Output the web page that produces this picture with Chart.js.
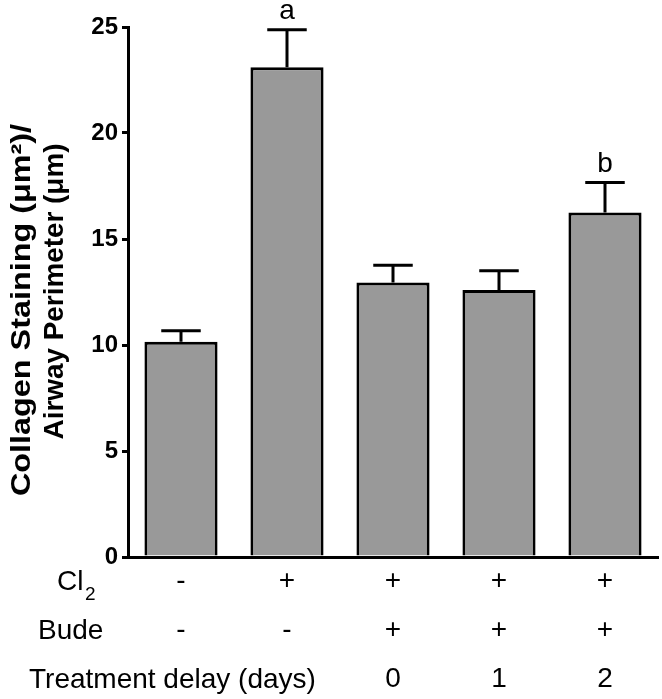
<!DOCTYPE html>
<html><head><meta charset="utf-8">
<script src="https://cdn.jsdelivr.net/npm/chart.js@4/dist/chart.umd.min.js"></script>
<style>html,body{margin:0;padding:0;background:#fff}#wrap{width:662px;height:699px;position:relative}</style>
</head><body><div id="wrap"><canvas id="c" width="662" height="699"></canvas></div>
<script>
const groups = ['Control', 'Cl2', 'Cl2+Bude 0d', 'Cl2+Bude 1d', 'Cl2+Bude 2d'];
const cl2Row = ['-', '+', '+', '+', '+'];
const budeRow = ['-', '-', '+', '+', '+'];
const delayRow = ['', '', '0', '1', '2'];
const means = [10.15, 23.1, 12.95, 12.6, 16.25];
const sem = [0.52, 1.77, 0.81, 0.9, 1.41];
const sigLetters = ['', 'a', '', '', 'b'];
const yTicks = [0, 5, 10, 15, 20, 25];
const yTitle1 = 'Collagen Staining (μm²)/';
const yTitle2 = 'Airway Perimeter (μm)';
const rowTitles = ['Cl', 'Bude', 'Treatment delay (days)'];

const FF = '"Liberation Sans", Arial, Helvetica, sans-serif';

function rotatedLine(ctx, text, cx, cy, targetLen) {
  const w = ctx.measureText(text).width;
  ctx.save();
  ctx.translate(cx, cy);
  ctx.rotate(-Math.PI / 2);
  ctx.scale(targetLen / w, 1);
  ctx.fillText(text, 0, 0);
  ctx.restore();
}

const extras = {
  id: 'extras',
  afterDatasetsDraw(chart) {
    const ctx = chart.ctx;
    const xs = chart.scales.x, ys = chart.scales.y;
    const meta = chart.getDatasetMeta(0);
    ctx.save();
    ctx.strokeStyle = '#000';
    ctx.fillStyle = '#000';
    ctx.lineWidth = 3;
    ctx.lineCap = 'butt';
    means.forEach((m, i) => {
      const x = xs.getPixelForValue(i);
      const yTop = ys.getPixelForValue(m);
      const yCap = ys.getPixelForValue(m + sem[i]);
      const half = meta.data[i].width * 0.27;
      ctx.beginPath();
      ctx.moveTo(x, yTop);
      ctx.lineTo(x, yCap);
      ctx.moveTo(x - half, yCap);
      ctx.lineTo(x + half, yCap);
      ctx.stroke();
      if (sigLetters[i]) {
        ctx.font = '28px ' + FF;
        ctx.textAlign = 'center';
        ctx.textBaseline = 'alphabetic';
        ctx.fillText(sigLetters[i], x, yCap - 11);
      }
    });
    ctx.restore();
  },
  afterDraw(chart) {
    const ctx = chart.ctx;
    ctx.save();
    ctx.fillStyle = '#000';
    // row titles
    ctx.font = '28px ' + FF;
    ctx.textAlign = 'left';
    ctx.textBaseline = 'middle';
    ctx.fillText(rowTitles[0], 57, 582);
    const w = ctx.measureText(rowTitles[0]).width;
    ctx.font = '19px ' + FF;
    ctx.textBaseline = 'alphabetic';
    ctx.fillText('2', 57 + w + 1.5, 600);
    ctx.font = '28px ' + FF;
    ctx.textBaseline = 'middle';
    ctx.fillText(rowTitles[1], 38, 631);
    ctx.fillText(rowTitles[2], 29, 680);
    // y title
    ctx.font = 'bold 28px ' + FF;
    ctx.textAlign = 'center';
    ctx.textBaseline = 'middle';
    rotatedLine(ctx, yTitle1, 22, 310, 372);
    rotatedLine(ctx, yTitle2, 55, 291.5, 296);
    ctx.restore();
  }
};

new Chart(document.getElementById('c'), {
  type: 'bar',
  data: {
    labels: groups,
    datasets: [{
      data: means,
      backgroundColor: '#999999',
      borderColor: '#000',
      borderWidth: 3,
      barPercentage: 0.69,
      categoryPercentage: 1
    }]
  },
  options: {
    responsive: false,
    animation: false,
    devicePixelRatio: 1,
    layout: { padding: { top: 27, right: 4, left: 0, bottom: 0 } },
    plugins: { legend: { display: false }, tooltip: { enabled: false } },
    scales: {
      x: {
        grid: { display: false, drawTicks: false, tickLength: 0 },
        border: { display: true, color: '#000', width: 3 },
        ticks: {
          autoSkip: false, maxRotation: 0, minRotation: 0, padding: 0,
          color: '#000',
          font: { family: FF, size: 28, lineHeight: 49 / 28 },
          callback: (v, i) => [cl2Row[i], budeRow[i], delayRow[i]]
        },
        afterFit: s => { s.height = 142; }
      },
      y: {
        min: 0, max: 25,
        afterBuildTicks: s => { s.ticks = yTicks.map(v => ({ value: v })); },
        grid: { display: true, drawOnChartArea: false, drawTicks: true, tickLength: 6, lineWidth: 3, color: '#000' },
        border: { display: true, color: '#000', width: 3 },
        ticks: { color: '#000', padding: 4, font: { family: FF, size: 24, weight: 'bold' } },
        afterFit: s => { s.width = 128; }
      }
    }
  },
  plugins: [extras]
});
</script>
</body></html>
